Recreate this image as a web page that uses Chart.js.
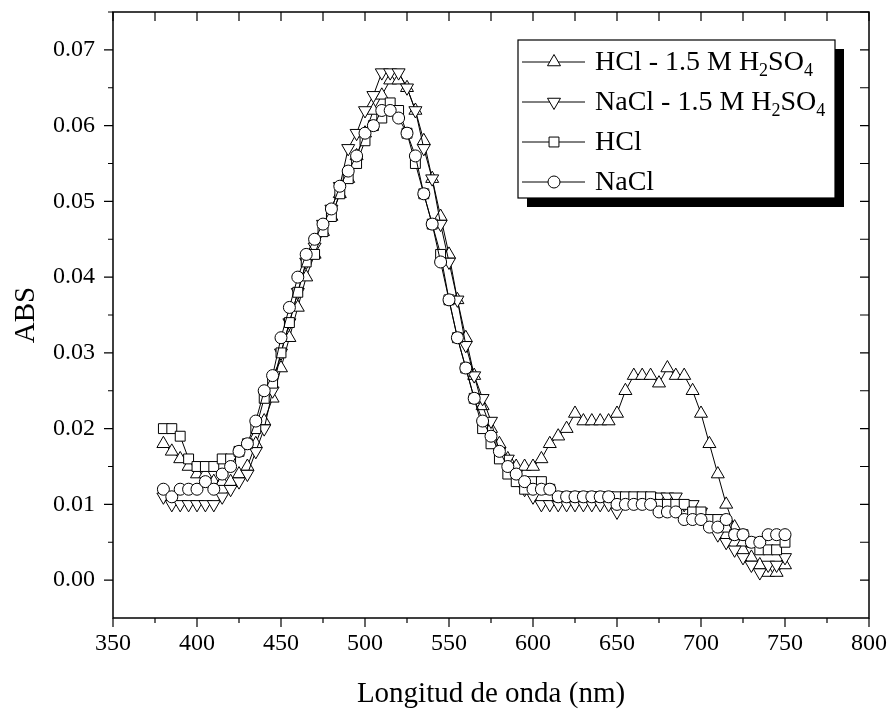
<!DOCTYPE html>
<html>
<head>
<meta charset="utf-8">
<script src="https://cdn.jsdelivr.net/npm/chart.js@4.4.1/dist/chart.umd.min.js"></script>
<style>
  html, body { margin: 0; padding: 0; background: #fff; }
</style>
</head>
<body>
<canvas id="absChart" width="891" height="715"></canvas>
<script>
// wavelength (nm)
var wavelengths = [380, 385, 390, 395, 400, 405, 410, 415, 420, 425, 430, 435, 440, 445, 450,
  455, 460, 465, 470, 475, 480, 485, 490, 495, 500, 505, 510, 515, 520, 525, 530, 535, 540,
  545, 550, 555, 560, 565, 570, 575, 580, 585, 590, 595, 600, 605, 610, 615, 620, 625, 630,
  635, 640, 645, 650, 655, 660, 665, 670, 675, 680, 685, 690, 695, 700, 705, 710, 715, 720,
  725, 730, 735, 740, 745, 750];

var hclAcid = [0.018, 0.017, 0.016, 0.015, 0.014, 0.014, 0.013, 0.013, 0.013, 0.014, 0.015,
  0.018, 0.021, 0.024, 0.028, 0.032, 0.036, 0.040, 0.043, 0.046, 0.048, 0.051, 0.053, 0.056,
  0.059, 0.062, 0.064, 0.066, 0.066, 0.065, 0.062, 0.058, 0.053, 0.048, 0.043, 0.037, 0.032,
  0.027, 0.023, 0.020, 0.018, 0.016, 0.015, 0.015, 0.015, 0.016, 0.018, 0.019, 0.020, 0.022,
  0.021, 0.021, 0.021, 0.021, 0.022, 0.025, 0.027, 0.027, 0.027, 0.026, 0.028, 0.027, 0.027,
  0.025, 0.022, 0.018, 0.014, 0.010, 0.007, 0.005, 0.003, 0.002, 0.001, 0.001, 0.002];

var naclAcid = [0.011, 0.010, 0.010, 0.010, 0.010, 0.010, 0.010, 0.011, 0.012, 0.013, 0.014,
  0.017, 0.020, 0.025, 0.030, 0.034, 0.038, 0.042, 0.044, 0.047, 0.049, 0.052, 0.057, 0.059,
  0.062, 0.064, 0.067, 0.067, 0.067, 0.065, 0.062, 0.057, 0.053, 0.047, 0.042, 0.037, 0.031,
  0.027, 0.024, 0.021, 0.017, 0.016, 0.014, 0.012, 0.011, 0.010, 0.010, 0.010, 0.010, 0.010,
  0.010, 0.010, 0.010, 0.010, 0.009, 0.011, 0.011, 0.011, 0.011, 0.011, 0.011, 0.011, 0.010,
  0.010, 0.009, 0.008, 0.006, 0.005, 0.004, 0.003, 0.002, 0.001, 0.002, 0.002, 0.003];

var hcl = [0.020, 0.020, 0.019, 0.016, 0.015, 0.015, 0.015, 0.016, 0.016, 0.017, 0.018,
  0.020, 0.024, 0.026, 0.030, 0.034, 0.038, 0.042, 0.043, 0.046, 0.048, 0.051, 0.053, 0.055,
  0.058, 0.060, 0.061, 0.063, 0.062, 0.059, 0.055, 0.051, 0.047, 0.043, 0.037, 0.032, 0.028,
  0.024, 0.020, 0.018, 0.016, 0.014, 0.013, 0.012, 0.013, 0.013, 0.012, 0.011, 0.011, 0.011,
  0.011, 0.011, 0.011, 0.011, 0.011, 0.011, 0.011, 0.011, 0.011, 0.010, 0.010, 0.010, 0.010,
  0.009, 0.009, 0.008, 0.008, 0.007, 0.006, 0.006, 0.005, 0.004, 0.004, 0.004, 0.005];

var nacl = [0.012, 0.011, 0.012, 0.012, 0.012, 0.013, 0.012, 0.014, 0.015, 0.017, 0.018,
  0.021, 0.025, 0.027, 0.032, 0.036, 0.040, 0.043, 0.045, 0.047, 0.049, 0.052, 0.054, 0.056,
  0.059, 0.060, 0.062, 0.062, 0.061, 0.059, 0.056, 0.051, 0.047, 0.042, 0.037, 0.032, 0.028,
  0.024, 0.021, 0.019, 0.017, 0.015, 0.014, 0.013, 0.012, 0.012, 0.012, 0.011, 0.011, 0.011,
  0.011, 0.011, 0.011, 0.011, 0.010, 0.010, 0.010, 0.010, 0.010, 0.009, 0.009, 0.009, 0.008,
  0.008, 0.008, 0.007, 0.007, 0.008, 0.006, 0.006, 0.005, 0.005, 0.006, 0.006, 0.006];

var seriesLabels = ["HCl - 1.5 M H2SO4", "NaCl - 1.5 M H2SO4", "HCl", "NaCl"];
var xTicks = [350, 400, 450, 500, 550, 600, 650, 700, 750, 800];
var yTicks = [0.00, 0.01, 0.02, 0.03, 0.04, 0.05, 0.06, 0.07];

var serif = "'Liberation Serif', 'Times New Roman', serif";

var markers = [
  { style: "triangle", rot: 0, r: 7.5 },
  { style: "triangle", rot: 180, r: 7.5 },
  { style: "rect", rot: 0, r: 7 },
  { style: "circle", rot: 0, r: 6 }
];

function toPoints(vals) {
  return wavelengths.map(function (w, i) {
    return { x: w, y: vals[i] };
  });
}

var allSeries = [hclAcid, naclAcid, hcl, nacl];
var datasets = allSeries.map(function (vals, i) {
  return {
    label: seriesLabels[i],
    data: toPoints(vals),
    order: 4 - i,
    borderColor: "#000",
    borderWidth: 1,
    pointStyle: markers[i].style,
    pointRotation: markers[i].rot,
    pointRadius: markers[i].r,
    pointBackgroundColor: "#fff",
    pointBorderColor: "#000",
    pointBorderWidth: 1,
    tension: 0
  };
});

// frame with major/minor ticks on all four sides
var frameTicks = {
  id: "frameTicks",
  afterDraw: function (chart) {
    var ctx = chart.ctx, a = chart.chartArea;
    var xs = chart.scales.x, ys = chart.scales.y;
    ctx.save();
    ctx.strokeStyle = "#000";
    ctx.lineWidth = 1.5;
    ctx.strokeRect(a.left, a.top, a.right - a.left, a.bottom - a.top);
    ctx.lineWidth = 1.2;
    ctx.beginPath();
    xTicks.forEach(function (v, i) {
      var px = xs.getPixelForValue(v);
      ctx.moveTo(px, a.bottom); ctx.lineTo(px, a.bottom + 9);
      ctx.moveTo(px, a.top); ctx.lineTo(px, a.top + 9);
      if (i < xTicks.length - 1) {
        var m = xs.getPixelForValue((v + xTicks[i + 1]) / 2);
        ctx.moveTo(m, a.bottom); ctx.lineTo(m, a.bottom + 5);
        ctx.moveTo(m, a.top); ctx.lineTo(m, a.top + 9);
      }
    });
    yTicks.forEach(function (v, i) {
      var py = ys.getPixelForValue(v);
      ctx.moveTo(a.left, py); ctx.lineTo(a.left - 9, py);
      ctx.moveTo(a.right, py); ctx.lineTo(a.right - 9, py);
      var m = ys.getPixelForValue(v + 0.005);
      ctx.moveTo(a.left, m); ctx.lineTo(a.left - 5, m);
      ctx.moveTo(a.right, m); ctx.lineTo(a.right - 9, m);
    });
    ctx.stroke();
    ctx.restore();
  }
};

// boxed legend with drop shadow and subscripts
function drawLabel(ctx, text, x, y) {
  var big = "28px " + serif, small = "18px " + serif;
  for (var i = 0; i < text.length; i++) {
    var ch = text[i];
    var sub = /[0-9]/.test(ch) && i > 0 && /[A-Z]/.test(text[i - 1]);
    ctx.font = sub ? small : big;
    ctx.fillText(ch, x, sub ? y + 8 : y);
    x += ctx.measureText(ch).width;
  }
}

var legendBox = {
  id: "legendBox",
  afterDraw: function (chart) {
    var ctx = chart.ctx;
    var x0 = 518, y0 = 40, w = 317, h = 158;
    ctx.save();
    ctx.fillStyle = "#000";
    ctx.fillRect(x0 + 9, y0 + 9, w, h);
    ctx.fillStyle = "#fff";
    ctx.fillRect(x0, y0, w, h);
    ctx.strokeStyle = "#000";
    ctx.lineWidth = 1.2;
    ctx.strokeRect(x0, y0, w, h);
    seriesLabels.forEach(function (lab, i) {
      var cy = y0 + 22 + i * 40;
      ctx.strokeStyle = "#000";
      ctx.lineWidth = 1;
      ctx.beginPath();
      ctx.moveTo(x0 + 4, cy);
      ctx.lineTo(x0 + 67, cy);
      ctx.stroke();
      ctx.fillStyle = "#fff";
      Chart.helpers.drawPoint(ctx, {
        pointStyle: markers[i].style,
        rotation: markers[i].rot,
        radius: markers[i].r,
        borderWidth: 1
      }, x0 + 36, cy);
      ctx.fillStyle = "#000";
      ctx.textBaseline = "middle";
      ctx.textAlign = "left";
      drawLabel(ctx, lab, x0 + 77, cy + 1);
    });
    ctx.restore();
  }
};

function noPadding(s) {
  s.paddingTop = 0;
  s.paddingBottom = 0;
  s.paddingLeft = 0;
  s.paddingRight = 0;
}

var ctx = document.getElementById("absChart").getContext("2d");
var absChart = new Chart(ctx, {
  type: "line",
  data: { datasets: datasets },
  plugins: [frameTicks, legendBox],
  options: {
    responsive: false,
    animation: false,
    devicePixelRatio: 1,
    layout: { padding: { top: 12, right: 22, left: 0, bottom: 0 } },
    plugins: { legend: { display: false }, tooltip: { enabled: false } },
    scales: {
      x: {
        type: "linear",
        min: 350,
        max: 800,
        afterFit: function (s) { s.height = 97; noPadding(s); },
        afterBuildTicks: function (s) {
          s.ticks = xTicks.map(function (v) { return { value: v }; });
        },
        ticks: { color: "#000", font: { family: serif, size: 24 }, padding: 11, maxRotation: 0 },
        grid: { display: false, drawTicks: false },
        border: { display: false },
        title: {
          display: true,
          text: "Longitud de onda (nm)",
          color: "#000",
          font: { family: serif, size: 29 },
          padding: { top: 0, bottom: 3 }
        }
      },
      y: {
        min: -0.005,
        max: 0.075,
        afterFit: function (s) { s.width = 113; noPadding(s); },
        afterBuildTicks: function (s) {
          s.ticks = yTicks.map(function (v) { return { value: v }; });
        },
        ticks: {
          color: "#000",
          font: { family: serif, size: 24 },
          padding: 18,
          callback: function (v) { return v.toFixed(2); }
        },
        grid: { display: false, drawTicks: false },
        border: { display: false },
        title: {
          display: true,
          text: "ABS",
          color: "#000",
          font: { family: serif, size: 29 },
          padding: { top: 9, bottom: 0 }
        }
      }
    }
  }
});
</script>
</body>
</html>
